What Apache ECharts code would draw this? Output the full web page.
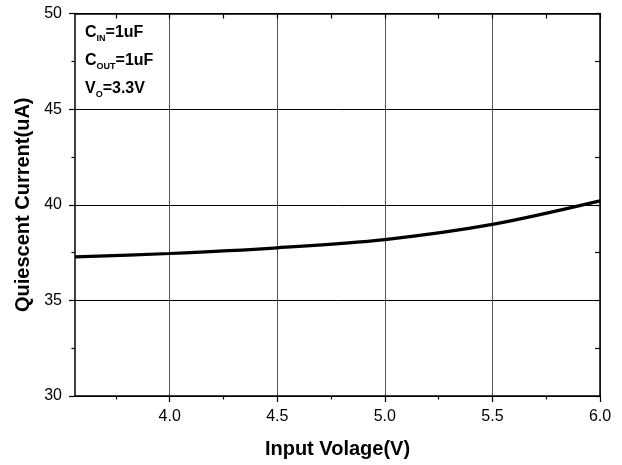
<!DOCTYPE html>
<html><head><meta charset="utf-8">
<script src="https://cdn.jsdelivr.net/npm/echarts@6/dist/echarts.min.js"></script>
<style>html,body{margin:0;padding:0;background:#fff}#c{width:622px;height:465px}</style>
</head><body><div id="c"></div>
<script>
const xValues = [3.56, 4.0, 4.5, 5.0, 5.5, 6.0];
const currentValues = [37.27, 37.45, 37.75, 38.18, 38.97, 40.2];
const xMajorTicks = [4.0, 4.5, 5.0, 5.5, 6.0];
const xMinorTicks = [3.75, 4.25, 4.75, 5.25, 5.75];
const yMin = 30, yMax = 50;

const chart = echarts.init(document.getElementById('c'), null, {renderer: 'canvas'});
const font = 'Liberation Sans, Arial, sans-serif';
const axisLine = {show: true, lineStyle: {color: '#000', width: 1.5}};
const option = {
  animation: false,
  grid: {left: 75, right: 22, top: 13.5, bottom: 69},
  xAxis: [
    {type: 'value', min: 3.56, max: 6.0, position: 'bottom',
     axisLine: axisLine,
     axisTick: {show: true, inside: false, length: 6, lineStyle: {color: '#000', width: 1.2}, customValues: xMajorTicks},
     axisLabel: {show: true, margin: 13, color: '#000', fontFamily: font, fontSize: 16, customValues: xMajorTicks, formatter: v => v.toFixed(1)},
     splitLine: {show: true, lineStyle: {color: '#555', width: 1}},
     name: 'Input Volage(V)', nameLocation: 'middle', nameGap: 43,
     nameTextStyle: {color: '#000', fontFamily: font, fontSize: 20, fontWeight: 'bold'}},
    {type: 'value', min: 3.56, max: 6.0, position: 'bottom',
     axisLine: {show: false},
     axisTick: {show: true, inside: false, length: 3.5, lineStyle: {color: '#000', width: 1.2}, customValues: xMinorTicks},
     axisLabel: {show: false}, splitLine: {show: false}},
    {type: 'value', min: 3.56, max: 6.0, position: 'top',
     axisLine: axisLine,
     axisTick: {show: true, inside: true, length: 5, lineStyle: {color: '#000', width: 1.2}, customValues: xMajorTicks.concat(xMinorTicks)},
     axisLabel: {show: false}, splitLine: {show: false}}
  ],
  yAxis: [
    {type: 'value', min: yMin, max: yMax, interval: 5, position: 'left',
     axisLine: axisLine,
     axisTick: {show: true, inside: false, length: 6, lineStyle: {color: '#000', width: 1.2}},
     minorTick: {show: true, splitNumber: 2, length: 3.5, lineStyle: {color: '#000', width: 1.2}},
     axisLabel: {show: true, margin: 13, color: '#000', fontFamily: font, fontSize: 16},
     splitLine: {show: true, lineStyle: {color: '#000', width: 1}},
     name: 'Quiescent Current(uA)', nameLocation: 'middle', nameGap: 41,
     nameTextStyle: {color: '#000', fontFamily: font, fontSize: 20, fontWeight: 'bold'}},
    {type: 'value', min: yMin, max: yMax, interval: 2.5, position: 'right',
     axisLine: axisLine,
     axisTick: {show: true, inside: true, length: 5, lineStyle: {color: '#000', width: 1.2}},
     axisLabel: {show: false}, splitLine: {show: false}}
  ],
  series: [{
    type: 'line', xAxisIndex: 0, yAxisIndex: 0,
    data: xValues.map((x, i) => [x, currentValues[i]]),
    smooth: 0.3, showSymbol: false, symbol: 'none',
    lineStyle: {color: '#000', width: 3.2}
  }],
  graphic: [{
    type: 'text', left: 85, top: 25,
    style: {
      text: '{m|C}{s|IN}{m|=1uF}\n{m|C}{s|OUT}{m|=1uF}\n{m|V}{s|O}{m|=3.3V}',
      rich: {
        m: {fontFamily: font, fontSize: 16, fontWeight: 'bold', fill: '#000', lineHeight: 28, verticalAlign: 'bottom'},
        s: {fontFamily: font, fontSize: 9, fontWeight: 'bold', fill: '#000', lineHeight: 28, verticalAlign: 'bottom', padding: [0, 0, -2, 0]}
      }
    }
  }]
};
chart.setOption(option);
</script></body></html>
